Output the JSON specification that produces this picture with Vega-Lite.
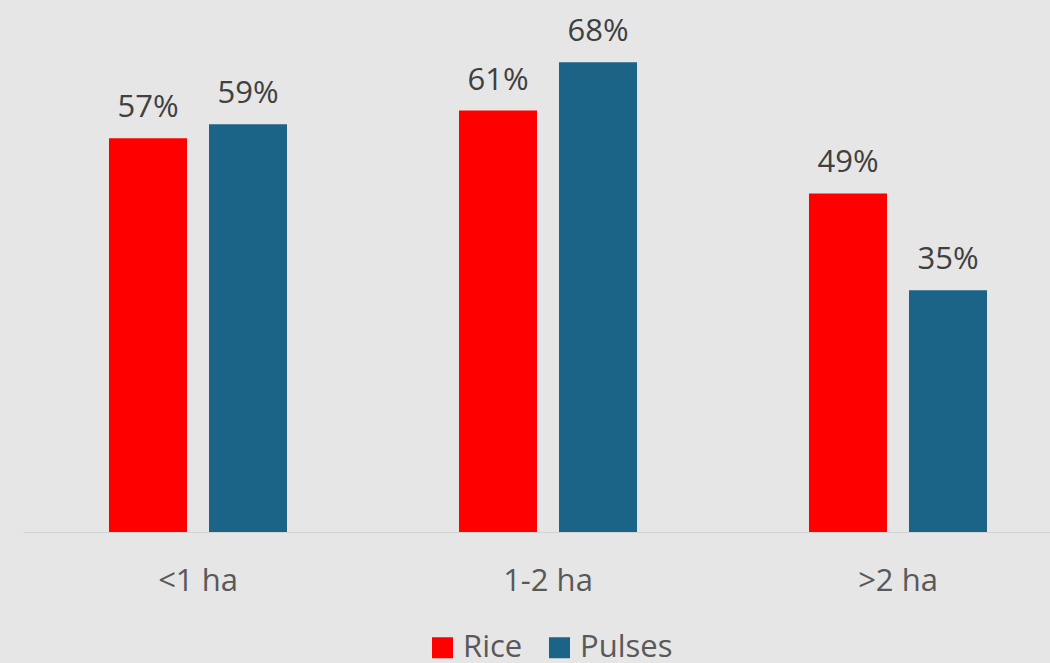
{
  "$schema": "https://vega.github.io/schema/vega-lite/v6.json",
  "width": 1027,
  "height": 532,
  "autosize": {"type": "none"},
  "padding": {"left": 23, "top": 0, "right": 0, "bottom": 131},
  "background": "#e6e6e6",
  "config": {"view": {"stroke": null}, "font": "Open Sans"},
  "data": {
    "values": [
      {"size": "<1 ha", "crop": "Rice", "value": 0.57},
      {"size": "<1 ha", "crop": "Pulses", "value": 0.59},
      {"size": "1-2 ha", "crop": "Rice", "value": 0.61},
      {"size": "1-2 ha", "crop": "Pulses", "value": 0.68},
      {"size": ">2 ha", "crop": "Rice", "value": 0.49},
      {"size": ">2 ha", "crop": "Pulses", "value": 0.35}
    ]
  },
  "encoding": {
    "x": {
      "field": "size",
      "type": "nominal",
      "sort": ["<1 ha", "1-2 ha", ">2 ha"],
      "scale": {"range": [0, 1050], "paddingInner": 0.4914, "paddingOuter": 0.2457},
      "axis": {
        "title": null,
        "labelAngle": 0,
        "ticks": false,
        "labelFontSize": 31,
        "labelColor": "#595959",
        "labelPadding": 34,
        "domainColor": "#d2d2d2",
        "domainWidth": 1
      }
    },
    "xOffset": {
      "field": "crop",
      "sort": ["Rice", "Pulses"],
      "scale": {"paddingInner": 0.22, "paddingOuter": 0}
    },
    "y": {
      "field": "value",
      "type": "quantitative",
      "scale": {"domain": [0, 0.77]},
      "axis": null
    }
  },
  "layer": [
    {
      "mark": {"type": "bar"},
      "encoding": {
        "color": {
          "field": "crop",
          "type": "nominal",
          "sort": ["Rice", "Pulses"],
          "scale": {"domain": ["Rice", "Pulses"], "range": ["#ff0000", "#1c6388"]},
          "legend": {
            "title": null,
            "orient": "none",
            "direction": "horizontal",
            "legendX": 404,
            "legendY": 632,
            "symbolType": "square",
            "symbolSize": 441,
            "symbolStrokeWidth": 0,
            "labelFontSize": 31,
            "labelColor": "#595959",
            "labelOffset": 5,
            "columnPadding": 21
          }
        }
      }
    },
    {
      "mark": {"type": "text", "dy": -21, "baseline": "alphabetic", "fontSize": 31, "color": "#404040"},
      "encoding": {
        "text": {"field": "value", "type": "quantitative", "format": ".0%"}
      }
    }
  ]
}
